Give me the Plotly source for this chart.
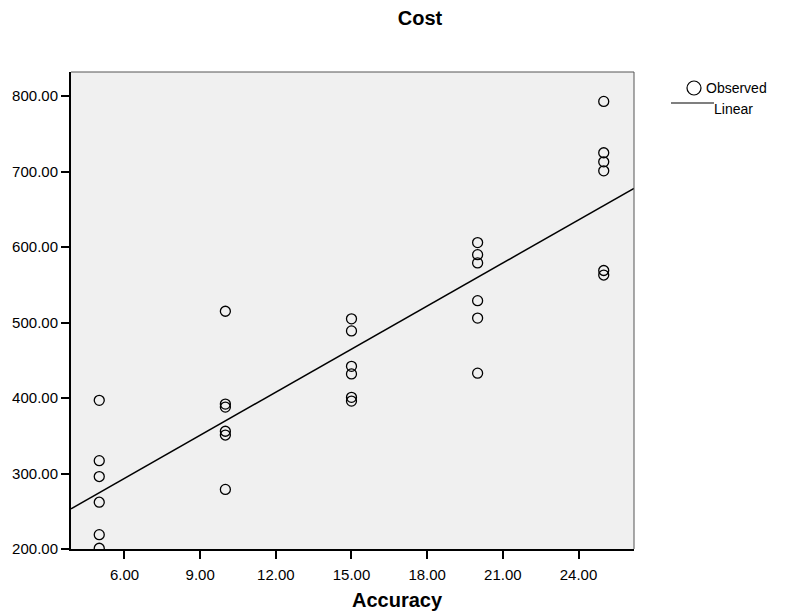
import numpy as np
import plotly.graph_objects as go

# Data (Accuracy groups and observed Cost)
accuracy = [5]*6 + [10]*6 + [15]*6 + [20]*6 + [25]*6
cost = [397, 317, 296, 262, 219, 201,
        515, 392, 388, 356, 351, 279,
        505, 489, 442, 432, 401, 396,
        606, 590, 579, 529, 506, 433,
        793, 725, 713, 701, 569, 563]
x_ticks = [6, 9, 12, 15, 18, 21, 24]
y_ticks = [200, 300, 400, 500, 600, 700, 800]
x_range = [3.88, 26.2]
y_range = [200, 832]

slope, intercept = np.polyfit(accuracy, cost, 1)
line_x = x_range
line_y = [intercept + slope * v for v in line_x]

FONT = "Liberation Sans, Arial, sans-serif"

# page has an 8px body margin; figure is sized so that the plot lands where the reference has it
OFF = 8
W, H = 786, 607
L, T, R, B = 63, 64, 160, 66
PW, PH = W - L - R, H - T - B


def px_x(p):
    return (p - OFF - L) / PW


def px_y(p):
    return 1 - (p - OFF - T) / PH


fig = go.Figure()
fig.add_trace(go.Scatter(
    x=accuracy, y=cost, mode="markers", name="Observed",
    marker=dict(symbol="circle-open", size=10, color="black", line=dict(width=1.3)),
    cliponaxis=True, showlegend=False))
fig.add_trace(go.Scatter(
    x=line_x, y=line_y, mode="lines", name="Linear",
    line=dict(color="black", width=1.5), showlegend=False))

fig.update_layout(
    width=W, height=H,
    margin=dict(l=L, r=R, t=T, b=B, autoexpand=False),
    paper_bgcolor="white", plot_bgcolor="#F0F0F0",
    font=dict(family=FONT, color="black", size=15),
    title=dict(text="<b>Cost</b>", x=(420 - OFF) / W, xanchor="center",
               y=1 - (18 - OFF) / H, yanchor="middle",
               font=dict(size=20, family=FONT)),
)
fig.update_xaxes(range=x_range, tickvals=x_ticks, ticktext=[f"{v:.2f}" for v in x_ticks],
                 showgrid=False, zeroline=False, ticks="outside", ticklen=8, tickwidth=1.5,
                 tickcolor="black", showline=True, linecolor="black", linewidth=2,
                 ticklabelstandoff=3, tickfont=dict(size=15), automargin=False)
fig.update_yaxes(range=y_range, tickvals=y_ticks, ticktext=[f"{v:.2f}" for v in y_ticks],
                 showgrid=False, zeroline=False, ticks="outside", ticklen=8, tickwidth=1.5,
                 tickcolor="black", showline=True, linecolor="black", linewidth=2,
                 tickfont=dict(size=15), automargin=False)

# x-axis title (centered on the page, as in the reference)
fig.add_annotation(text="<b>Accuracy</b>", xref="paper", yref="paper",
                   x=px_x(397), y=px_y(600), xanchor="center", yanchor="middle",
                   showarrow=False, font=dict(size=20))

# thin frame on top and right
fig.add_shape(type="line", xref="paper", yref="paper", x0=0, x1=1, y0=1, y1=1,
              line=dict(color="#555555", width=1))
fig.add_shape(type="line", xref="paper", yref="paper", x0=1, x1=1, y0=0, y1=1,
              line=dict(color="#555555", width=1))

# legend drawn manually to mimic the reference layout
fig.add_shape(type="circle", xref="paper", yref="paper",
              x0=px_x(687), x1=px_x(701), y0=px_y(81), y1=px_y(95),
              line=dict(color="black", width=1.2))
fig.add_annotation(text="Observed", xref="paper", yref="paper", x=px_x(704), y=px_y(88),
                   xanchor="left", yanchor="middle", showarrow=False, font=dict(size=14))
fig.add_shape(type="line", xref="paper", yref="paper",
              x0=px_x(671), x1=px_x(714), y0=px_y(103), y1=px_y(103),
              line=dict(color="black", width=1.2))
fig.add_annotation(text="Linear", xref="paper", yref="paper", x=px_x(712), y=px_y(109),
                   xanchor="left", yanchor="middle", showarrow=False, font=dict(size=14))

fig.write_html("out.html")
